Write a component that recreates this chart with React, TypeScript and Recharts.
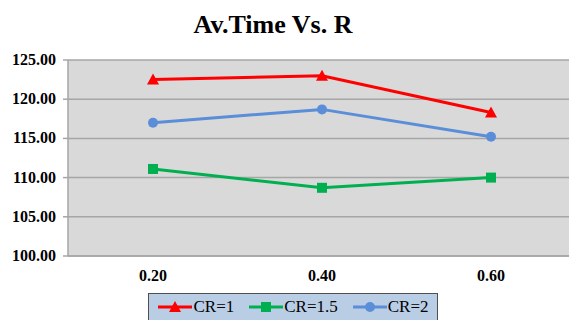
import { LineChart, Line, XAxis, YAxis, CartesianGrid, Legend } from "recharts";

const categories = ["0.20", "0.40", "0.60"];
const cr1 = [122.5, 123.0, 118.3];
const cr15 = [111.1, 108.7, 110.0];
const cr2 = [117.0, 118.7, 115.2];
const yTicks = [100, 105, 110, 115, 120, 125];

const series = [
  { key: "cr1", name: "CR=1", color: "#ff0000", marker: "triangle" },
  { key: "cr15", name: "CR=1.5", color: "#00b050", marker: "square" },
  { key: "cr2", name: "CR=2", color: "#5a8ed8", marker: "circle" },
];

const data = categories.map((r, i) => ({
  r,
  cr1: cr1[i],
  cr15: cr15[i],
  cr2: cr2[i],
}));

const font = '"Liberation Serif", "Times New Roman", serif';

function Marker({ cx, cy, type, color }: any) {
  if (cx == null || cy == null) return null;
  if (type === "triangle") {
    return (
      <polygon
        points={`${cx},${cy - 6} ${cx + 6},${cy + 5} ${cx - 6},${cy + 5}`}
        fill={color}
      />
    );
  }
  if (type === "square") {
    return <rect x={cx - 5} y={cy - 5} width={10} height={10} fill={color} />;
  }
  return <circle cx={cx} cy={cy} r={5} fill={color} />;
}

function XTick({ x, y, payload }: any) {
  return (
    <text
      x={x}
      y={y + 23}
      textAnchor="middle"
      style={{ fontFamily: font, fontWeight: "bold", fontSize: 16, fill: "#000" }}
    >
      {payload.value}
    </text>
  );
}

function YTick({ x, y, payload }: any) {
  return (
    <text
      x={x - 5}
      y={y + 5}
      textAnchor="end"
      style={{ fontFamily: font, fontWeight: "bold", fontSize: 16, fill: "#000" }}
    >
      {Number(payload.value).toFixed(2)}
    </text>
  );
}

function LegendBox() {
  return (
    <div
      style={{
        boxSizing: "border-box",
        width: 290,
        height: 30,
        background: "#b9cde5",
        border: "1.5px solid #505050",
        display: "flex",
        alignItems: "center",
        justifyContent: "center",
        gap: 14,
        fontFamily: font,
        fontSize: 17,
        color: "#000",
        paddingBottom: 2,
      }}
    >
      {series.map((s) => (
        <div key={s.key} style={{ display: "flex", alignItems: "center" }}>
          <svg width={36} height={14}>
            <line x1={1} y1={7} x2={35} y2={7} stroke={s.color} strokeWidth={3} />
            <Marker cx={18} cy={7} type={s.marker} color={s.color} />
          </svg>
          <span>{s.name}</span>
        </div>
      ))}
    </div>
  );
}

export default function App() {
  return (
    <div
      style={{
        position: "fixed",
        left: 0,
        top: 0,
        width: 569,
        height: 320,
        overflow: "hidden",
        background: "#fff",
      }}
    >
      <div
        style={{
          position: "absolute",
          left: 0,
          top: 10,
          width: 546,
          textAlign: "center",
          fontFamily: font,
          fontWeight: "bold",
          fontSize: 26,
          color: "#000",
        }}
      >
        Av.Time Vs. R
      </div>
      <LineChart
        width={576}
        height={320}
        data={data}
        margin={{ top: 60, right: 0, left: 0, bottom: 4 }}
      >
        <CartesianGrid
          vertical={false}
          fill="#d9d9d9"
          stroke="#a6a6a6"
          strokeWidth={1.5}
        />
        <XAxis
          dataKey="r"
          padding={{ left: 85, right: 85 }}
          height={30}
          tickLine={false}
          tickSize={0}
          axisLine={{ stroke: "#a6a6a6", strokeWidth: 1.5 }}
          tick={<XTick />}
        />
        <YAxis
          width={68}
          domain={[100, 125]}
          ticks={yTicks}
          tickSize={5}
          axisLine={{ stroke: "#a6a6a6", strokeWidth: 1.5 }}
          tickLine={{ stroke: "#a6a6a6", strokeWidth: 1.5 }}
          tick={<YTick />}
        />
        <Legend
          content={() => <LegendBox />}
          wrapperStyle={{ position: "absolute", left: 148, top: 293, width: 290 }}
        />
        {series.map((s) => (
          <Line
            key={s.key}
            dataKey={s.key}
            name={s.name}
            stroke={s.color}
            strokeWidth={3}
            isAnimationActive={false}
            dot={(p: any) => (
              <Marker key={`${s.key}-${p.index}`} cx={p.cx} cy={p.cy} type={s.marker} color={s.color} />
            )}
            activeDot={false}
          />
        ))}
      </LineChart>
    </div>
  );
}
